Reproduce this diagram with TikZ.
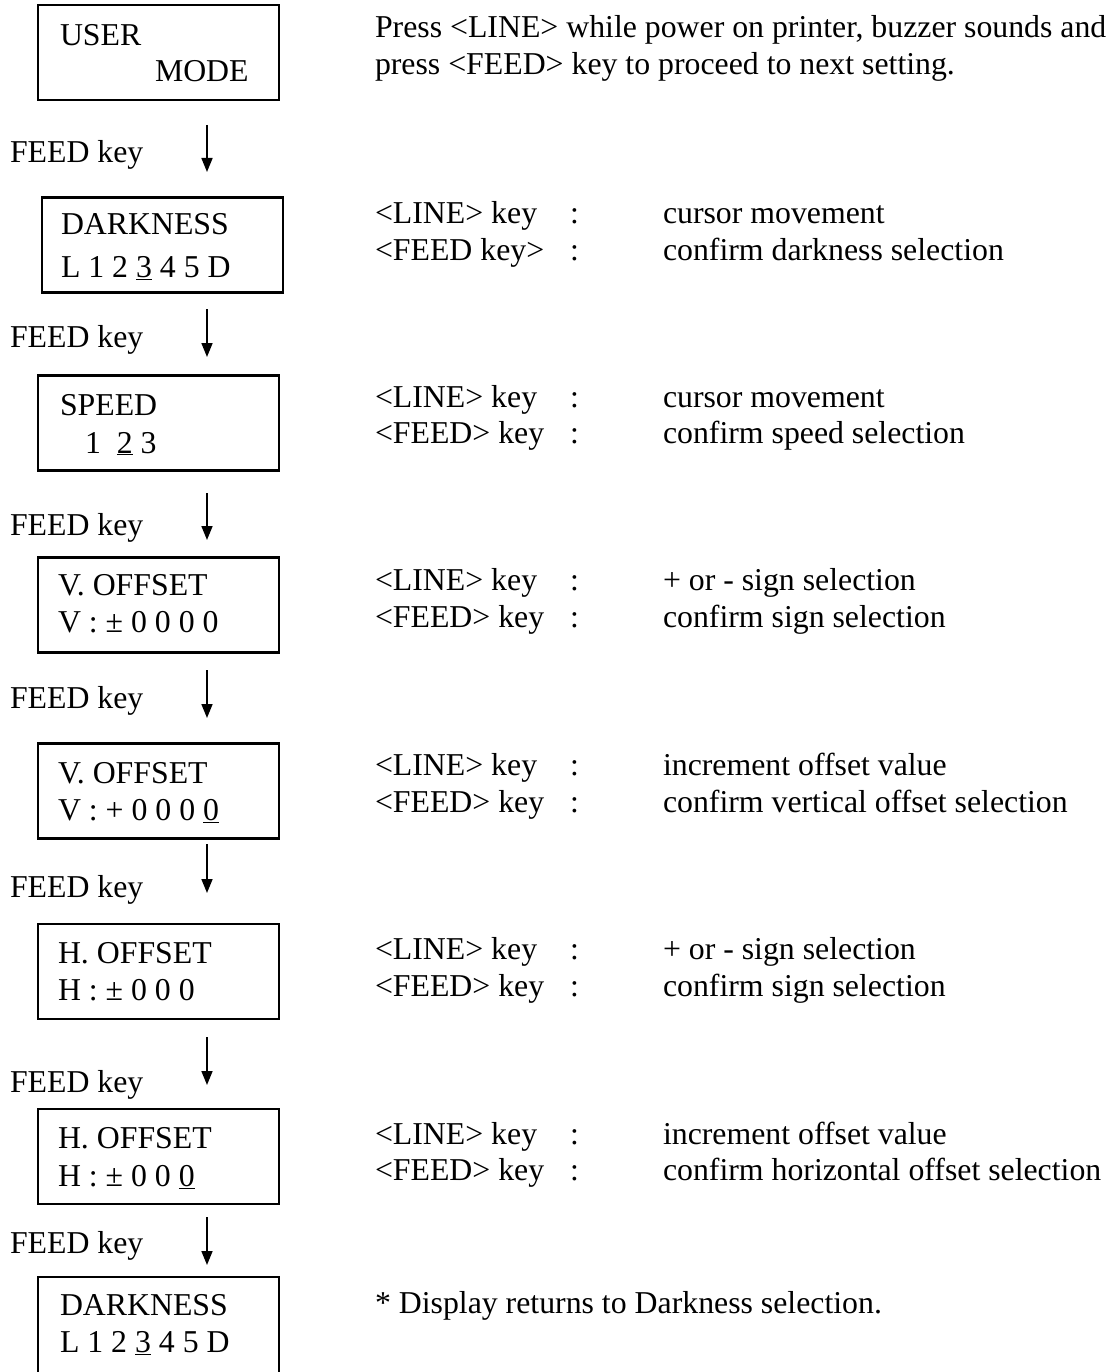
\documentclass[tikz,border=0pt]{standalone}
\usepackage{fontspec}
\setmainfont{Liberation Serif}
\usetikzlibrary{arrows.meta}
\begin{document}
\begin{tikzpicture}[x=1pt,y=-1pt,
  txt/.style={anchor=base west,inner sep=0pt,outer sep=0pt,font=\fontsize{31.8}{38}\selectfont},
  lcdbox/.style={draw,line width=2.2pt,minimum width=241pt,minimum height=95pt,inner sep=0pt},
  arr/.style={line width=1.7pt,-{Triangle[length=14pt,width=11pt]}}]
\useasboundingbox (0,0) rectangle (1110,1372);
\clip (0,0) rectangle (1110,1372);
% boxes
\node[lcdbox] (b1) at (158.5,52.5) {};
\node[lcdbox] (b2) at (162.5,245) {};
\node[lcdbox] (b3) at (158.5,423) {};
\node[lcdbox] (b4) at (158.5,605) {};
\node[lcdbox] (b5) at (158.5,791) {};
\node[lcdbox] (b6) at (158.5,971.5) {};
\node[lcdbox] (b7) at (158.5,1156.5) {};
\node[lcdbox,minimum height=120pt] (b8) at (158.5,1337) {};
% box texts
\node[txt] (t1a) at (60,46) {USER};
\node[txt] (t1b) at (155,82) {MODE};
\node[txt] (t2a) at (61,235) {DARKNESS};
\node[txt] (t2b) at (61,277) {L 1 2 \underline{3} 4 5 D};
\node[txt] (t3a) at (60,415) {SPEED};
\node[txt] (t3b) at (85,453) {1~~\underline{2} 3};
\node[txt] (t4a) at (58,595) {V. OFFSET};
\node[txt] (t4b) at (58,632) {V : ± 0 0 0 0};
\node[txt] (t5a) at (58,783) {V. OFFSET};
\node[txt] (t5b) at (58,820) {V : + 0 0 0 \underline{0}};
\node[txt] (t6a) at (58,963) {H. OFFSET};
\node[txt] (t6b) at (58,1000) {H : ± 0 0 0};
\node[txt] (t7a) at (58,1148) {H. OFFSET};
\node[txt] (t7b) at (58,1186) {H : ± 0 0 \underline{0}};
\node[txt] (t8a) at (60,1315) {DARKNESS};
\node[txt] (t8b) at (60,1352) {L 1 2 \underline{3} 4 5 D};
% arrows
\coordinate (s1) at (207,125);  \coordinate (e1) at (207,172);
\coordinate (s2) at (207,309);  \coordinate (e2) at (207,357);
\coordinate (s3) at (207,493);  \coordinate (e3) at (207,540);
\coordinate (s4) at (207,670);  \coordinate (e4) at (207,718);
\coordinate (s5) at (207,844);  \coordinate (e5) at (207,893);
\coordinate (s6) at (207,1037); \coordinate (e6) at (207,1085);
\coordinate (s7) at (207,1217); \coordinate (e7) at (207,1265);
\foreach \i in {1,...,7} {\draw[arr] (s\i) -- (e\i);}
% FEED key labels
\node[txt] (f1) at (10,163) {FEED key};
\node[txt] (f2) at (10,347) {FEED key};
\node[txt] (f3) at (10,535) {FEED key};
\node[txt] (f4) at (10,708) {FEED key};
\node[txt] (f5) at (10,897) {FEED key};
\node[txt] (f6) at (10,1092) {FEED key};
\node[txt] (f7) at (10,1253) {FEED key};
% right column
\node[txt] (h1) at (375,38) {Press <LINE> while power on printer, buzzer sounds and};
\node[txt] (h2) at (375,75) {press <FEED> key to proceed to next setting.};
\node[txt] (k2a) at (375,224) {<LINE> key};  \node[txt] (c2a) at (570,224) {:}; \node[txt] (d2a) at (663,224) {cursor movement};
\node[txt] (k2b) at (375,260) {<FEED key>};  \node[txt] (c2b) at (570,260) {:}; \node[txt] (d2b) at (663,260) {confirm darkness selection};
\node[txt] (k3a) at (375,407) {<LINE> key};  \node[txt] (c3a) at (570,407) {:}; \node[txt] (d3a) at (663,407) {cursor movement};
\node[txt] (k3b) at (375,443) {<FEED> key};  \node[txt] (c3b) at (570,443) {:}; \node[txt] (d3b) at (663,443) {confirm speed selection};
\node[txt] (k4a) at (375,590) {<LINE> key};  \node[txt] (c4a) at (570,590) {:}; \node[txt] (d4a) at (663,590) {+ or - sign selection};
\node[txt] (k4b) at (375,627) {<FEED> key};  \node[txt] (c4b) at (570,627) {:}; \node[txt] (d4b) at (663,627) {confirm sign selection};
\node[txt] (k5a) at (375,775) {<LINE> key};  \node[txt] (c5a) at (570,775) {:}; \node[txt] (d5a) at (663,775) {increment offset value};
\node[txt] (k5b) at (375,812) {<FEED> key};  \node[txt] (c5b) at (570,812) {:}; \node[txt] (d5b) at (663,812) {confirm vertical offset selection};
\node[txt] (k6a) at (375,959) {<LINE> key};  \node[txt] (c6a) at (570,959) {:}; \node[txt] (d6a) at (663,959) {+ or - sign selection};
\node[txt] (k6b) at (375,996) {<FEED> key};  \node[txt] (c6b) at (570,996) {:}; \node[txt] (d6b) at (663,996) {confirm sign selection};
\node[txt] (k7a) at (375,1144) {<LINE> key}; \node[txt] (c7a) at (570,1144) {:}; \node[txt] (d7a) at (663,1144) {increment offset value};
\node[txt] (k7b) at (375,1180) {<FEED> key}; \node[txt] (c7b) at (570,1180) {:}; \node[txt] (d7b) at (663,1180) {confirm horizontal offset selection};
\node[txt] (n8) at (375,1313) {* Display returns to Darkness selection.};
\end{tikzpicture}
\end{document}
